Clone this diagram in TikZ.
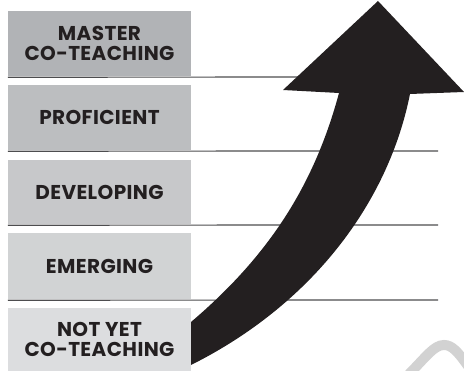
\documentclass[tikz,border=0pt]{standalone}
\usepackage{fontspec}
\setmainfont{Poppins}[LetterSpace=2]
\definecolor{ink}{HTML}{231F20}
\definecolor{rule}{HTML}{4D4D4F}
\definecolor{lvlA}{HTML}{B1B3B6}
\definecolor{lvlB}{HTML}{BCBEC0}
\definecolor{lvlC}{HTML}{C7C8CA}
\definecolor{lvlD}{HTML}{D1D3D4}
\definecolor{lvlE}{HTML}{DCDDDF}
\definecolor{paperclipgray}{HTML}{D2D2D2}
\begin{document}
\begin{tikzpicture}[x=1pt,y=-1pt,
  level/.style={draw=none, minimum width=183pt, minimum height=#1, inner sep=0pt,
    align=center, text=ink, font=\fontsize{20}{20}\selectfont\bfseries},
  divider/.style={draw=rule, line width=1.2pt}]
\useasboundingbox (0,0) rectangle (464,371);

% level boxes, top to bottom
\node[level=65pt, fill=lvlA] (master) at (99.5,43.5) {MASTER\\CO-TEACHING};
\node[level=65pt, fill=lvlB] (prof)   at (99.5,117.5) {PROFICIENT};
\node[level=64pt, fill=lvlC] (dev)    at (99.5,192) {DEVELOPING};
\node[level=66pt, fill=lvlD] (emerg)  at (99.5,266) {EMERGING};
\node[level=63pt, fill=lvlE] (notyet) at (99.5,339.5) {NOT YET\\CO-TEACHING};

% dividing rules under the boxes
\coordinate (r1) at (438,77);
\coordinate (r2) at (438,151);
\coordinate (r3) at (438,225);
\coordinate (r4) at (438,300);
\draw[divider] (master.south west) ++(0,1) -- (r1);
\draw[divider] (prof.south west) ++(0,1) -- (r2);
\draw[divider] (dev.south west) ++(0,1) -- (r3);
\draw[divider] (emerg.south west) ++(0,1) -- (r4);

% paper clip tip in the corner
\draw[paperclipgray, line width=10pt] (409,374) .. controls (426,357) and (434,345) .. (444,345)
  .. controls (452,345) and (458,352) .. (468,366);

% rising arrow
\fill[ink] (191,365) .. controls (311,305) and (388,204) .. (410,94)
  -- (464,92) -- (378,1) -- (283,90) -- (339,93)
  .. controls (314.7,183) and (271,254) .. (191,322) -- cycle;
\end{tikzpicture}
\end{document}
